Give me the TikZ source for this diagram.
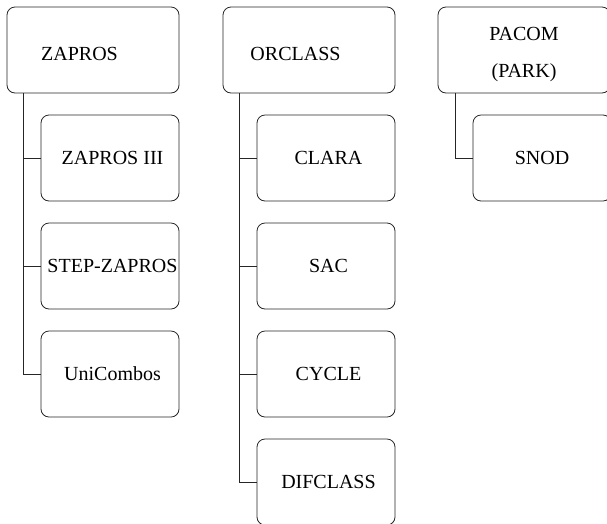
\documentclass[tikz,border=0pt]{standalone}
\usepackage{fontspec}
\setmainfont{Liberation Serif}
\usetikzlibrary{positioning}
\tikzset{
  box/.style={draw=black!85, line width=0.8pt, rounded corners=8pt, minimum height=86pt, inner sep=0pt, font=\fontsize{20}{24}\selectfont},
  rootbox/.style={box, minimum width=172pt},
  leafbox/.style={box, minimum width=138pt},
  rootshift/.style={text height=21pt, execute at begin node={\hspace*{-27pt}}}, % text sits left of centre, a bit low
  leafshift/.style={execute at begin node={\hspace*{5pt}}},
  link/.style={draw=black!85, line width=0.8pt}
}

\begin{document}
\begin{tikzpicture}[x=1pt,y=-1pt]
  \useasboundingbox (0,0) rectangle (607,523);
  \clip (0,0) rectangle (607,523);
  % roots
  \node[rootbox, rootshift] (zapros) at (93,50) {ZAPROS};
  \node[rootbox, rootshift] (orclass) at (309,50) {ORCLASS};
  \node[rootbox, align=center, text height=59pt, font=\fontsize{20}{37}\selectfont] (pacom) at (524,50) {PACOM\\(PARK)};
  % ZAPROS family
  \foreach \t [count=\i] in {ZAPROS III, STEP-ZAPROS, UniCombos}{
    \node[leafbox, leafshift] (zap\i) at (110,{50+108*\i}) {\t};
    \draw[link] ([xshift=17pt]zapros.south west) |- (zap\i.west);
  }
  % ORCLASS family
  \foreach \t [count=\i] in {CLARA, SAC, CYCLE, DIFCLASS}{
    \node[leafbox, leafshift] (orc\i) at (326,{50+108*\i}) {\t};
    \draw[link] ([xshift=17pt]orclass.south west) |- (orc\i.west);
  }
  % PACOM family
  \node[leafbox] (snod) at (542,158) {SNOD};
  \draw[link] ([xshift=18pt]pacom.south west) |- (snod.west);
\end{tikzpicture}
\end{document}
